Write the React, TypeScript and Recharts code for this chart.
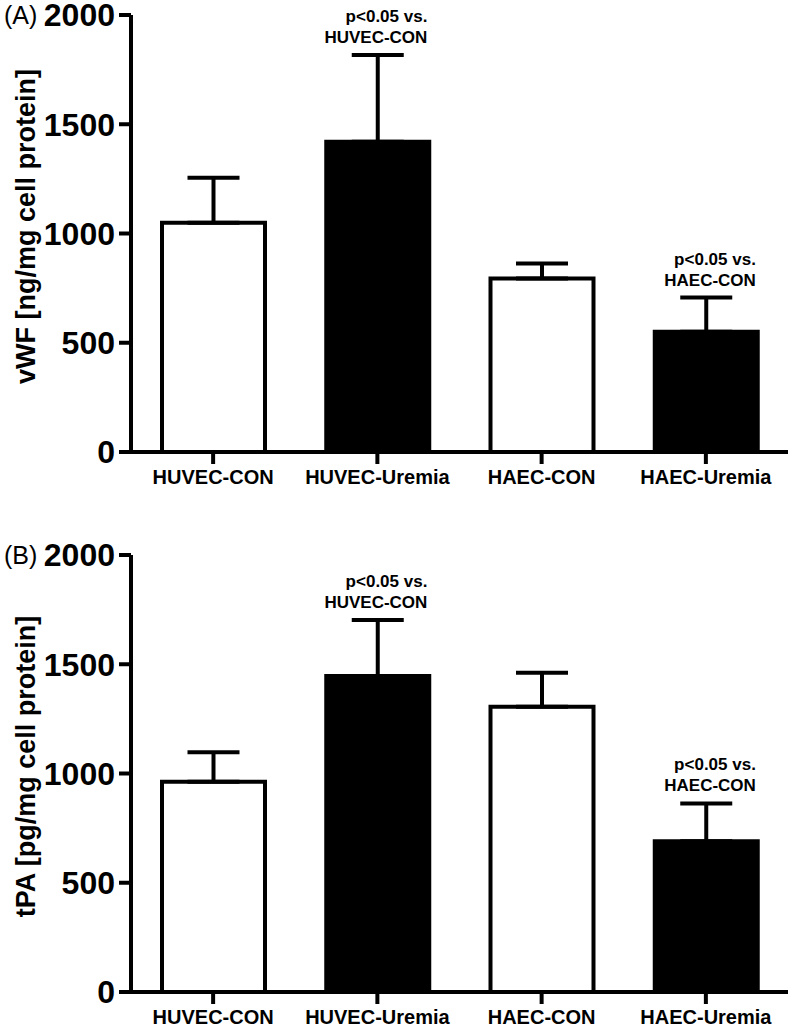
import { Bar, BarChart, Cell, ErrorBar, ReferenceDot, XAxis, YAxis } from "recharts";

const groups = ["HUVEC-CON", "HUVEC-Uremia", "HAEC-CON", "HAEC-Uremia"];

// panel A: vWF (ng/mg cell protein), mean + SD
const vwfMean = [1049, 1420, 794, 550];
const vwfSd = [206, 397, 69, 157];

// panel B: tPA (pg/mg cell protein), mean + SD
const tpaMean = [962, 1446, 1306, 690];
const tpaSd = [135, 257, 155, 173];

const yTicks = [0, 500, 1000, 1500, 2000];

const vwfNotes = [null, ["p<0.05 vs.", "HUVEC-CON"], null, ["p<0.05 vs.", "HAEC-CON"]];
const tpaNotes = [null, ["p<0.05 vs.", "HUVEC-CON"], null, ["p<0.05 vs.", "HAEC-CON"]];

const FONT = '"Liberation Sans", Arial, Helvetica, sans-serif';
const W = 792;
const H = 496;

type PanelProps = {
  tag: string;
  yLabel: string;
  means: number[];
  sds: number[];
  notes: (string[] | null)[];
};

function Panel({ tag, yLabel, means, sds, notes }: PanelProps) {
  const data = groups.map((g, i) => ({
    group: g,
    mean: means[i],
    err: [0, sds[i]],
    top: means[i] + sds[i],
  }));

  const axisLabel = (props: any) => {
    const vb = props.viewBox ?? { x: 0, y: 21, width: 131, height: 437 };
    const cy = vb.y + vb.height / 2 - 7;
    return (
      <g>
        <text x={vb.x + 4} y={vb.y + 9} fontSize={25} fontFamily={FONT} fill="#000">
          {tag}
        </text>
        <text
          x={vb.x + 35}
          y={cy}
          transform={`rotate(-90, ${vb.x + 35}, ${cy})`}
          textAnchor="middle"
          fontSize={27}
          fontWeight={700}
          fontFamily={FONT}
          fill="#000"
        >
          {yLabel}
        </text>
      </g>
    );
  };

  const noteLabel = (lines: string[]) => (props: any) => {
    const vb = props.viewBox ?? { x: 0, y: 0 };
    const x = vb.x + 50;
    return (
      <g>
        <text x={x} y={vb.y - 33} textAnchor="end" fontSize={17} fontWeight={700} fontFamily={FONT} fill="#000">
          {lines[0]}
        </text>
        <text x={x} y={vb.y - 12} textAnchor="end" fontSize={17} fontWeight={700} fontFamily={FONT} fill="#000">
          {lines[1]}
        </text>
      </g>
    );
  };

  return (
    <BarChart
      width={W}
      height={H}
      data={data}
      margin={{ top: 21, right: 4, bottom: 8, left: 0 }}
      style={{ overflow: "visible" }}
    >
      <XAxis
        dataKey="group"
        height={30}
        axisLine={{ stroke: "#000", strokeWidth: 4 }}
        tickLine={{ stroke: "#000", strokeWidth: 4 }}
        tickSize={12}
        tickMargin={6}
        tick={{ fill: "#000", fontSize: 20, fontWeight: 700, fontFamily: FONT }}
        interval={0}
      />
      <YAxis
        width={131}
        domain={[0, 2000]}
        ticks={yTicks}
        interval={0}
        axisLine={{ stroke: "#000", strokeWidth: 4 }}
        tickLine={{ stroke: "#000", strokeWidth: 4 }}
        tickSize={12}
        tickMargin={4}
        tick={{ fill: "#000", fontSize: 32, fontWeight: 700, fontFamily: FONT }}
        label={axisLabel}
      />
      <Bar dataKey="mean" barSize={103} stroke="#000" strokeWidth={4} isAnimationActive={false}>
        {data.map((d) => (
          <Cell key={d.group} fill={d.group.endsWith("Uremia") ? "#000" : "#fff"} />
        ))}
        <ErrorBar
          dataKey="err"
          direction="y"
          width={26}
          stroke="#000"
          strokeWidth={4}
          isAnimationActive={false}
        />
      </Bar>
      {data.map((d, i) =>
        notes[i] ? (
          <ReferenceDot
            key={d.group}
            x={d.group}
            y={d.top}
            r={0}
            fill="none"
            stroke="none"
            ifOverflow="visible"
            label={noteLabel(notes[i] as string[])}
          />
        ) : null
      )}
    </BarChart>
  );
}

export default function App() {
  return (
    <div
      style={{
        position: "absolute",
        left: 0,
        top: 0,
        width: W,
        height: 1030,
        background: "#fff",
        overflow: "hidden",
        fontFamily: FONT,
      }}
    >
      <style>{"svg.recharts-surface{overflow:visible}"}</style>
      <div style={{ position: "absolute", left: 0, top: -6 }}>
        <Panel tag="(A)" yLabel="vWF [ng/mg cell protein]" means={vwfMean} sds={vwfSd} notes={vwfNotes} />
      </div>
      <div style={{ position: "absolute", left: 0, top: 534 }}>
        <Panel tag="(B)" yLabel="tPA [pg/mg cell protein]" means={tpaMean} sds={tpaSd} notes={tpaNotes} />
      </div>
    </div>
  );
}
